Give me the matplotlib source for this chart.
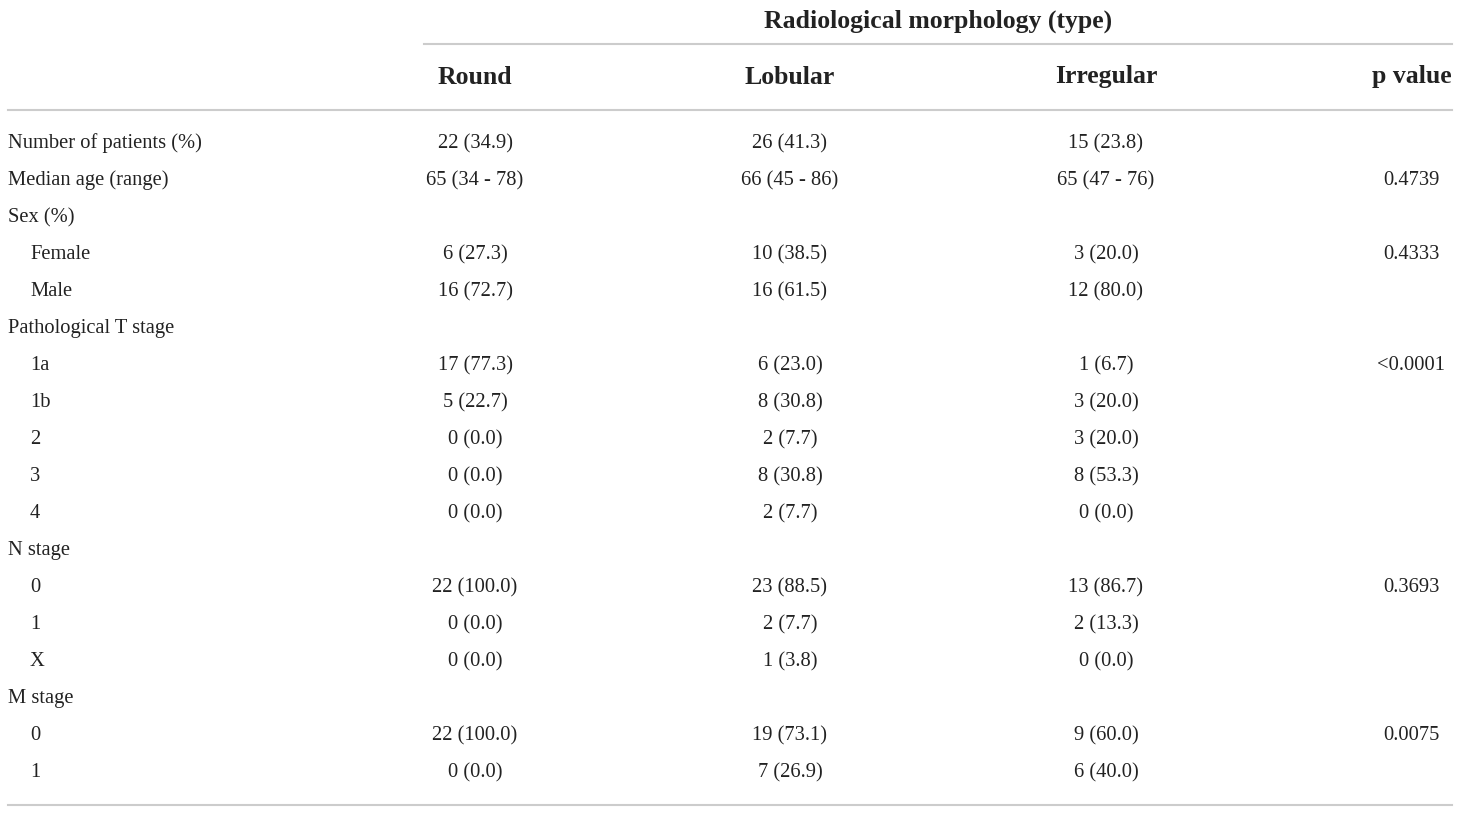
import matplotlib.pyplot as plt

# table contents
title = "Radiological morphology (type)"
columns = ["Round", "Lobular", "Irregular", "p value"]

row_labels = ["Number of patients (%)", "Median age (range)", "Sex (%)", "Female", "Male",
              "Pathological T stage", "1a", "1b", "2", "3", "4",
              "N stage", "0", "1", "X", "M stage", "0", "1"]
indented = [False, False, False, True, True, False, True, True, True, True, True,
            False, True, True, True, False, True, True]

round_vals = ["22 (34.9)", "65 (34 - 78)", "", "6 (27.3)", "16 (72.7)", "",
              "17 (77.3)", "5 (22.7)", "0 (0.0)", "0 (0.0)", "0 (0.0)", "",
              "22 (100.0)", "0 (0.0)", "0 (0.0)", "", "22 (100.0)", "0 (0.0)"]
lobular_vals = ["26 (41.3)", "66 (45 - 86)", "", "10 (38.5)", "16 (61.5)", "",
                "6 (23.0)", "8 (30.8)", "2 (7.7)", "8 (30.8)", "2 (7.7)", "",
                "23 (88.5)", "2 (7.7)", "1 (3.8)", "", "19 (73.1)", "7 (26.9)"]
irregular_vals = ["15 (23.8)", "65 (47 - 76)", "", "3 (20.0)", "12 (80.0)", "",
                  "1 (6.7)", "3 (20.0)", "3 (20.0)", "8 (53.3)", "0 (0.0)", "",
                  "13 (86.7)", "2 (13.3)", "0 (0.0)", "", "9 (60.0)", "6 (40.0)"]
p_vals = ["", "0.4739", "", "0.4333", "", "", "<0.0001", "", "", "", "", "",
          "0.3693", "", "", "", "0.0075", ""]

plt.rcParams['font.family'] = ['Liberation Serif', 'DejaVu Serif']
text_col = "#222222"
line_col = "#cccccc"

fig = plt.figure(figsize=(14.6, 8.13), dpi=100)
ax = fig.add_axes([0, 0, 1, 1])
ax.set_xlim(0, 1460)
ax.set_ylim(813, 0)
ax.axis("off")

# rules
ax.plot([424, 1452], [44, 44], color=line_col, lw=1.5)
ax.plot([8, 1452], [110, 110], color=line_col, lw=1.5)
ax.plot([8, 1452], [805, 805], color=line_col, lw=1.5)

ax.text(938, 21, title, ha="center", va="center", fontsize=18.5, fontweight="bold", color=text_col)
col_x = [475, 790, 1106]
for x, c in zip(col_x, columns[:3]):
    ax.text(x, 77, c, ha="center", va="center", fontsize=18.5, fontweight="bold", color=text_col)
ax.text(1452, 77, columns[3], ha="right", va="center", fontsize=18.5, fontweight="bold", color=text_col)

y0, dy = 143.5, 37
for i, lab in enumerate(row_labels):
    y = y0 + i * dy
    ax.text(30 if indented[i] else 8, y, lab, ha="left", va="center", fontsize=14.8, color=text_col)
    for x, vals in zip(col_x, [round_vals, lobular_vals, irregular_vals]):
        ax.text(x, y, vals[i], ha="center", va="center", fontsize=14.8, color=text_col)
    ax.text(1411, y, p_vals[i], ha="center", va="center", fontsize=14.8, color=text_col)

fig.savefig("out.png", dpi=100)
